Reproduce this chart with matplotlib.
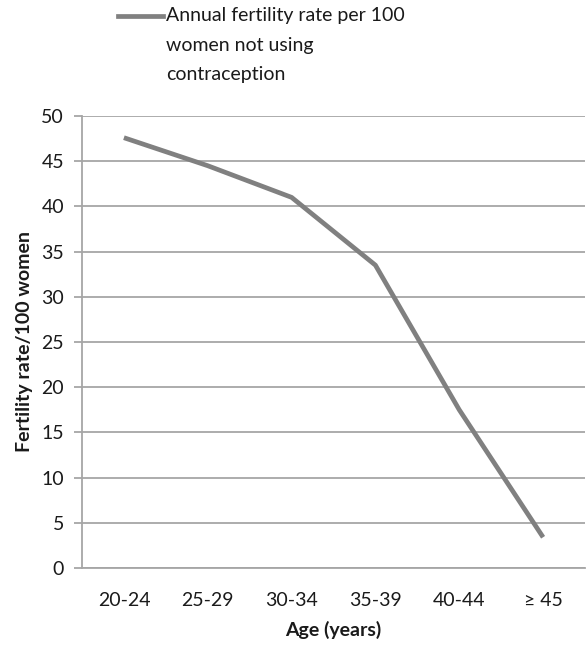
import matplotlib
matplotlib.use("Agg")
import matplotlib.pyplot as plt
from matplotlib.lines import Line2D

plt.rcParams['font.family'] = ['Lato', 'DejaVu Sans']

ages = ["20-24", "25-29", "30-34", "35-39", "40-44", "\u2265 45"]
rates = [47.6, 44.5, 41.0, 33.5, 17.5, 3.4]
yticks = [0, 5, 10, 15, 20, 25, 30, 35, 40, 45, 50]
series_label = "Annual fertility rate per 100\nwomen not using\ncontraception"

fig = plt.figure(figsize=(5.87, 6.46), dpi=100)
ax = fig.add_axes([82 / 587, (646 - 568) / 646, 503 / 587, (568 - 116) / 646])

grid_c = "#a6a6a6"
line_c = "#808080"
text_c = "#1a1a1a"
fs = 14

ax.plot(range(len(ages)), rates, color=line_c, lw=3.4, solid_capstyle="butt")

ax.set_xlim(-0.5, len(ages) - 0.5)
ax.set_ylim(0, 50)
ax.set_yticks(yticks)
ax.set_xticks(range(len(ages)))
ax.set_xticklabels(ages)
ax.yaxis.grid(True, color=grid_c, lw=1.3)
ax.set_axisbelow(True)

for s in ["top", "right"]:
    ax.spines[s].set_visible(False)
ax.spines["left"].set_color(grid_c)
ax.spines["left"].set_linewidth(1.3)
ax.spines["bottom"].set_color(grid_c)
ax.spines["bottom"].set_linewidth(1.3)

ax.tick_params(axis="y", length=6, color=grid_c, width=1.3, labelsize=fs,
               labelcolor=text_c, pad=7)
ax.tick_params(axis="x", length=0, labelsize=fs, labelcolor=text_c, pad=17)

ax.set_ylabel("Fertility rate/100 women", fontsize=fs, fontweight="bold",
              color=text_c, labelpad=6)
ax.set_xlabel("Age (years)", fontsize=fs, fontweight="bold", color=text_c,
              labelpad=9)

# legend: handle aligned with the first text line
fig.add_artist(Line2D([118 / 587, 163 / 587], [1 - 16 / 646, 1 - 16 / 646],
                      color=line_c, lw=3.4, transform=fig.transFigure))
fig.text(166 / 587, 1 - 7 / 646, series_label, ha="left", va="top",
         fontsize=fs, color=text_c, linespacing=1.9)

fig.savefig("out.png", dpi=100)
